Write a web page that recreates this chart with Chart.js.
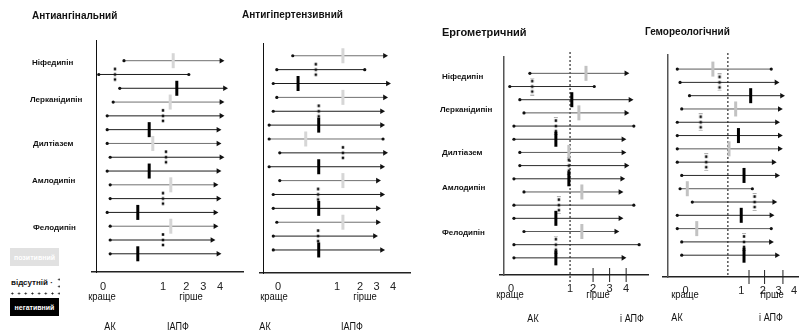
<!DOCTYPE html>
<html><head><meta charset="utf-8">
<script src="https://cdn.jsdelivr.net/npm/chart.js@4/dist/chart.umd.min.js"></script>
<style>
html,body{margin:0;padding:0;background:#fff;}
#wrap{position:relative;width:809px;height:332px;overflow:hidden;font-family:"Liberation Sans",Arial,sans-serif;color:#111;}
canvas{position:absolute;left:0;top:0;}
.t{position:absolute;white-space:nowrap;line-height:1;}
.title{font-weight:bold;font-size:10px;transform:translateY(-50%);}
.drug{font-weight:bold;font-size:8px;transform:translateY(-50%);}
.lab{font-size:10.5px;transform:translate(-50%,-50%) scaleX(0.9);}
.grp{font-size:11px;transform:translate(-50%,-50%) scaleX(0.82);}
.box{position:absolute;font-weight:bold;font-size:7px;color:#fff;display:flex;align-items:center;justify-content:center;}
</style></head>
<body><div id="wrap">
<canvas id="c1" width="809" height="332"></canvas>
<canvas id="c2" width="809" height="332"></canvas>
<canvas id="c3" width="809" height="332"></canvas>
<canvas id="c4" width="809" height="332"></canvas>

<div class="t title" style="left:32px;top:16px">Антиангінальний</div>
<div class="t title" style="left:242px;top:15px">Антигіпертензивний</div>
<div class="t title" style="left:442px;top:32px;font-size:11px">Ергометричний</div>
<div class="t title" style="left:645px;top:32px">Гемореологічний</div>

<div id="drugs"></div>

<div class="t lab" style="left:102px;top:296px">краще</div>
<div class="t lab" style="left:191px;top:296px">гірше</div>
<div class="t grp" style="left:110px;top:326px">АК</div>
<div class="t grp" style="left:178px;top:326px">ІАПФ</div>

<div class="t lab" style="left:274px;top:296px">краще</div>
<div class="t lab" style="left:365px;top:296px">гірше</div>
<div class="t grp" style="left:265px;top:326px">АК</div>
<div class="t grp" style="left:352px;top:326px">ІАПФ</div>

<div class="t lab" style="left:510px;top:294px">краще</div>
<div class="t lab" style="left:598px;top:294px">гірше</div>
<div class="t grp" style="left:533px;top:318px">АК</div>
<div class="t grp" style="left:632px;top:318px">і АПФ</div>

<div class="t lab" style="left:685px;top:294px">краще</div>
<div class="t lab" style="left:772px;top:294px">гірше</div>
<div class="t grp" style="left:677px;top:317px">АК</div>
<div class="t grp" style="left:771px;top:317px">і АПФ</div>

<div class="box" style="left:10px;top:248px;width:49px;height:18px;background:#e1e1e1">позитивний</div>
<div style="position:absolute;left:10px;top:276px;width:50px;height:20px;background-image:radial-gradient(circle,#222 0.8px,transparent 1.2px);background-size:6.7px 7px;background-position:-1px 0px"></div>
<div class="t" style="left:10px;top:283px;transform:translateY(-50%);font-weight:bold;font-size:8px;background:#fff;padding:1px 1px 1px 1px">відсутній ·</div>
<div class="box" style="left:10px;top:298px;width:49px;height:18px;background:#000">негативний</div>
</div>
<script>
// ---------- data ----------
const drugs = ['Ніфедипін','Лерканідипін','Дилтіазем','Амлодипін','Фелодипін'];
const markerType = ['p','a','n','p','a','n','p','a','n','p','a','n','p','a','n']; // p=позитивний, a=відсутній, n=негативний
const tickLabels = ['0','1','2','3','4'];
const tickAt = [0, 1, 1.39, 1.67, 1.95];

// Антиангінальний
const lo1  = [0.35,-0.07,0.28,0.17,0.07,0.07,0.07,0.12,0.07,0.12,0.12,0.07,0.12,0.12,0.12];
const hi1  = [1.97,1.43,2.03,1.97,1.97,1.92,1.92,1.97,1.92,1.87,1.92,1.87,1.87,1.82,1.92];
const est1 = [1.17,0.20,1.23,1.12,1.00,0.77,0.83,1.05,0.77,1.13,1.00,0.58,1.13,1.00,0.58];
const end1 = ['a','d','a','a','a','a','a','a','a','a','a','a','a','a','a'];
// Антигіпертензивний
const lo2  = [0.25,-0.02,-0.08,-0.02,-0.08,-0.15,-0.15,0.03,-0.15,0.03,-0.08,-0.08,-0.02,-0.08,-0.08];
const hi2  = [1.81,1.47,1.86,1.81,1.76,1.76,1.78,1.81,1.76,1.69,1.76,1.69,1.69,1.64,1.76];
const est2 = [1.10,0.64,0.34,1.10,0.69,0.69,0.47,1.10,0.69,1.10,0.68,0.69,1.10,0.68,0.69];
const end2 = ['a','d','a','a','a','a','d','a','a','a','a','a','a','a','a'];
// Ергометричний
const lo3  = [0.32,-0.02,0.15,0.22,0.05,0.05,0.15,0.15,0.05,0.22,0.05,0.05,0.22,0.05,0.05];
const hi3  = [1.95,1.41,2.02,1.95,2.08,1.90,1.90,1.95,1.88,1.85,2.08,1.85,1.78,2.17,1.90];
const est3 = [1.27,0.36,1.03,1.15,0.76,0.76,0.98,0.98,0.98,1.20,0.81,0.76,1.20,0.76,0.76];
const end3 = ['a','d','a','a','d','a','a','a','a','a','d','a','a','d','a'];
const ref3 = 1.0;
const ticks3 = [1.39,1.67,1.95];
// Гемореологічний
const lo4  = [-0.15,-0.10,0.07,-0.07,-0.15,-0.15,-0.15,-0.15,-0.07,-0.10,0.12,-0.15,-0.15,-0.07,-0.07];
const hi4  = [1.54,1.63,1.73,1.69,1.64,1.69,1.69,1.58,1.64,1.20,1.59,1.54,1.54,1.53,1.64];
const est4 = [0.49,0.61,1.17,0.90,0.27,0.95,0.78,0.37,1.05,0.03,1.24,1.00,0.20,1.05,1.05];
const end4 = ['d','a','a','a','a','a','a','a','a','d','a','a','d','a','a'];
const ref4 = 0.76;
const ticks4 = [1.14,1.42,1.75];

// ---------- layout / style ----------
const panels = [
  {id:'c1', lo:lo1, hi:hi1, est:est1, end:end1, xr:[-0.183,2.333], yAt:-0.1, yr:[-1.50,15.32], box:[92,40,243,272], pad:1.5,
   posC:'#d6d6d6', lineP:'#707070', lineO:'#1c1c1c', yC:'#111', yW:1, cap:false},
  {id:'c2', lo:lo2, hi:hi2, est:est2, end:end2, xr:[-0.305,2.237], yAt:-0.254, yr:[-0.92,15.66], box:[260,43,410,273], pad:0,
   posC:'#d6d6d6', lineP:'#707070', lineO:'#1c1c1c', yC:'#111', yW:1, cap:false},
  {id:'c3', lo:lo3, hi:hi3, est:est3, end:end3, xr:[-0.186,2.32], yAt:-0.119, yr:[-1.24,15.30], box:[500,57,648,275], pad:0,
   posC:'#c2c2c2', lineP:'#5a5a5a', lineO:'#2a2a2a', yC:'#555', yW:1.5, cap:true, ref:ref3, refY:[-1.62,15.9], tk:ticks3},
  {id:'c4', lo:lo4, hi:hi4, est:est4, end:end4, xr:[-0.407,2.03], yAt:-0.322, yr:[-1.06,15.64], box:[663,55,807,277], pad:0.5,
   posC:'#c2c2c2', lineP:'#5a5a5a', lineO:'#2a2a2a', yC:'#555', yW:1.5, cap:true, ref:ref4, refY:[-1.21,15.64], tk:ticks4}
];

function makeDots(cap){
  const c = document.createElement('canvas'); c.width = 6; c.height = 18;
  const g = c.getContext('2d');
  if (cap){
    g.strokeStyle = '#b0b0b0'; g.lineWidth = 1; g.beginPath();
    g.moveTo(1,0.5); g.lineTo(5,0.5); g.moveTo(1,17.5); g.lineTo(5,17.5); g.stroke();
  }
  g.fillStyle = '#111';
  [2.2,7.7,12.7].forEach(y => g.fillRect(1.75, y, 2.5, 2.6));
  return c;
}

const FONT = 'Liberation Sans, Arial, sans-serif';

function build(p){
  const rows = p.lo.map((_, i) => i);
  const dots = makeDots(p.cap);
  const ds = [];
  // estimate markers
  ds.push({order:0, clip:false, data: rows.map(i => ({x:p.est[i], y:i})),
    pointStyle: c => markerType[c.dataIndex] === 'a' ? dots : 'line',
    pointRotation: c => markerType[c.dataIndex] === 'a' ? 0 : 90,
    pointRadius: 7.5,
    pointBorderWidth: c => markerType[c.dataIndex] === 'a' ? 0 : 3,
    pointBorderColor: c => markerType[c.dataIndex] === 'n' ? '#000' : p.posC,
    pointBackgroundColor: '#000'});
  // left ends
  ds.push({order:1, clip:false, data: rows.map(i => ({x:p.lo[i], y:i})),
    pointRadius:1.6, pointBorderWidth:0, pointBackgroundColor:'#111'});
  // right ends (arrow or dot)
  ds.push({order:1, clip:false, data: rows.map(i => ({x:p.hi[i], y:i})),
    pointStyle: c => p.end[c.dataIndex] === 'a' ? 'triangle' : 'circle',
    pointRotation: 90,
    pointRadius: c => p.end[c.dataIndex] === 'a' ? 3.2 : 1.6,
    pointBorderWidth:0, pointBackgroundColor:'#111'});
  // interval lines
  rows.forEach(i => ds.push({order:2, clip:false, showLine:true, pointRadius:0, borderWidth:1,
    borderColor: markerType[i] === 'p' ? p.lineP : p.lineO,
    data:[{x:p.lo[i], y:i}, {x:p.hi[i], y:i}]}));
  if (p.ref !== undefined){
    ds.push({order:3, clip:false, showLine:true, pointRadius:0, borderWidth:1, borderColor:'#000', borderDash:[2,2],
      data:[{x:p.ref, y:p.refY[0]}, {x:p.ref, y:p.refY[1]}]});
    ds.push({order:3, clip:false, data: p.tk.map(v => ({x:v, y:p.yr[1]})),
      pointStyle:'line', pointRotation:90, pointRadius:7, pointBorderWidth:1, pointBorderColor:'#222'});
  }
  const AXH = 20;
  new Chart(document.getElementById(p.id), {
    type:'scatter',
    data:{datasets:ds},
    options:{
      responsive:false, animation:false, devicePixelRatio:1, events:[],
      layout:{padding:{left:p.box[0], right:809 - p.box[2], top:p.box[1], bottom:332 - p.box[3] - AXH}},
      plugins:{legend:{display:false}, tooltip:{enabled:false}, title:{display:false}},
      scales:{
        x:{type:'linear', min:p.xr[0], max:p.xr[1], bounds:'data',
          afterBuildTicks: s => { s.ticks = tickAt.map(v => ({value:v})); },
          afterFit: s => { s.height = AXH; },
          ticks:{autoSkip:false, maxRotation:0, padding:p.pad, color:'#222',
            font:{family:FONT, size:11, lineHeight:1}, callback:(v, i) => tickLabels[i]},
          grid:{display:false},
          border:{display:true, color:'#222', width:1.5}},
        y:{type:'linear', reverse:true, min:p.yr[0], max:p.yr[1], position:{x:p.yAt},
          ticks:{display:false}, grid:{display:false},
          border:{display:true, color:p.yC, width:p.yW}}
      }
    }
  });
}
panels.forEach(build);

// drug labels (left panels 1 and 3)
const drugPos = [
  [[32,63],[30,100],[33,144],[32,181],[33,228]],
  [[442,77],[440,110],[442,153],[442,188],[442,233]]
];
const holder = document.getElementById('drugs');
drugPos.forEach(set => set.forEach((xy, k) => {
  const d = document.createElement('div');
  d.className = 't drug';
  d.style.left = xy[0] + 'px'; d.style.top = xy[1] + 'px';
  d.textContent = drugs[k];
  holder.appendChild(d);
}));
</script>
</body></html>
